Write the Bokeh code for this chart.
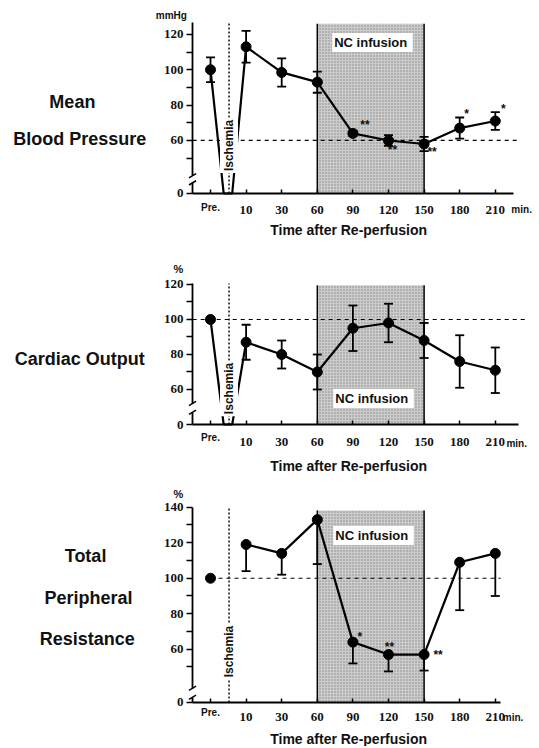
import numpy as np
from bokeh.plotting import figure
from bokeh.models import (Range1d, LinearAxis, FixedTicker, Label, Whisker,
                          ColumnDataSource, TeeHead)
from bokeh.layouts import column
from bokeh.embed import file_html
from bokeh.resources import INLINE

# ---------------- data ----------------
time_labels = ["Pre.", "10", "30", "60", "90", "120", "150", "180", "210"]
time_slots = [0, 1, 2, 3, 4, 5, 6, 7, 8]
infusion_slots = [3, 6]          # NC infusion from 60 to 150 min
ischemia_slot = 0.52             # ischemia between Pre. and 10 min
ischemia_fall = [0.37, 0.61]     # values fall to 0 during ischemia

mbp = [100, 113, 98.5, 93, 64, 60, 58, 67, 71]
mbp_sd = [7, 9, 8, 6, 1.5, 3, 4, 6, 5]
mbp_sig = ["", "", "", "", "**", "**", "**", "*", "*"]
mbp_ref = 60

co = [100, 87, 80, 70, 95, 98, 88, 76, 71]
co_sd = [0, 10, 8, 10, 13, 11, 10, 15, 13]
co_ref = 100

tpr = [100, 119, 114, 133, 64, 57, 57, 109, 114]
tpr_sd = [0, 15, 12, 25, 12, 9.5, 9, 27, 24]
tpr_sig = ["", "", "", "", "*", "**", "**", "", ""]
tpr_ref = 100

# ---------------- style ----------------
FONT = "Liberation Sans"
TICK_FONT = "Liberation Sans Narrow"
W = 537
X0 = -5.899
X1 = X0 + W / 35.6
AX = -0.506      # position of the y axis (between slots)
LW = 1.8


def lab(p, x, y, text, size, align="center", bg=None, angle=0, dx=0, dy=0, baseline="middle"):
    l = Label(x=x, y=y, text=text, text_font=FONT, text_font_size=f"{size}px",
              text_font_style="bold", text_align=align, text_baseline=baseline,
              text_color="#111111", angle=angle, x_offset=dx, y_offset=dy)
    if bg:
        l.background_fill_color = bg
        l.padding = 2
    p.add_layout(l)


def panel(cfg):
    p = figure(width=W, height=cfg["h"], x_range=Range1d(X0, X1),
               y_range=Range1d(cfg["y0"], cfg["y1"]), x_axis_type=None, y_axis_type=None,
               toolbar_location=None, output_backend="svg", min_border=0,
               outline_line_color=None, background_fill_color="white",
               border_fill_color="white")
    base = cfg["base"]

    # shaded NC infusion period
    p.quad(left=[infusion_slots[0]], right=[infusion_slots[1]], bottom=[base],
           top=[cfg["shade_top"]], fill_color="#cccccc", line_color=None,
           hatch_pattern="dot", hatch_color="#555555", hatch_scale=3, hatch_alpha=0.6,
           level="underlay")
    p.segment(x0=infusion_slots, x1=infusion_slots, y0=[base, base],
              y1=[cfg["shade_top"]] * 2, line_color="black", line_width=1.5)

    # ischemia wavy line
    p.line([ischemia_slot, ischemia_slot], [base, cfg["axis_top"]], line_color="black",
           line_width=1.4, line_dash="2 2")

    # reference level
    p.line(cfg["ref_span"], [cfg["ref"], cfg["ref"]], line_color="black", line_width=1.2,
           line_dash="4 4")

    vals, sd = cfg["vals"], cfg["sd"]
    # main line
    if cfg["fall"]:
        xs = [time_slots[0]] + ischemia_fall + time_slots[1:]
        ys = [vals[0], base, base] + vals[1:]
    else:
        xs, ys = time_slots[1:], vals[1:]
    p.line(xs, ys, line_color="black", line_width=2.2)

    # error bars
    idx = [i for i in range(len(vals)) if sd[i] > 0]
    up = [vals[i] + (sd[i] if cfg["both"] else 0) for i in idx]
    dn = [vals[i] - sd[i] for i in idx]
    src = ColumnDataSource(dict(x=[time_slots[i] for i in idx], upper=up, lower=dn))
    w = Whisker(source=src, base="x", upper="upper", lower="lower", line_width=LW,
                line_color="black", level="overlay",
                lower_head=TeeHead(size=9, line_width=LW, line_color="black"),
                upper_head=TeeHead(size=9, line_width=LW, line_color="black") if cfg["both"] else None)
    p.add_layout(w)

    p.scatter(time_slots, vals, size=10, color="black")

    # significance marks
    for i, s in enumerate(cfg.get("sig", [])):
        if s:
            dx, dy = cfg["sig_off"][i]
            lab(p, time_slots[i], vals[i], s, 12, dx=dx, dy=-dy)

    # y axes (broken)
    lo_ax = LinearAxis(fixed_location=AX, bounds=(base, cfg["brk"][0]),
                       ticker=FixedTicker(ticks=[base]), major_label_overrides={base: "0"})
    ticks = cfg["yticks"]
    over = {t: ("" if t % 20 else str(t)) for t in ticks}
    hi_ax = LinearAxis(fixed_location=AX, bounds=(cfg["brk"][1], cfg["axis_top"]),
                       ticker=FixedTicker(ticks=ticks), major_label_overrides=over)
    for a in (lo_ax, hi_ax):
        a.axis_line_width = LW
        a.major_tick_line_width = 1.5
        a.major_tick_out = 6
        a.major_tick_in = 0
        a.minor_tick_line_color = None
        a.major_label_standoff = 3
        a.major_label_text_font = TICK_FONT
        a.major_label_text_font_style = "bold"
        a.major_label_text_font_size = "13px"
        a.major_label_text_color = "#111111"
        p.add_layout(a, "left")
    # break marks
    p.segment(x0=[AX - 0.1, AX - 0.1], x1=[AX + 0.1, AX + 0.1],
              y0=[cfg["brk"][0] - 1.2, cfg["brk"][1] - 1.2],
              y1=[cfg["brk"][0] + 1.2, cfg["brk"][1] + 1.2], line_color="black", line_width=1.5)

    # x axis
    xo = {t: ("" if t == 0 else time_labels[t]) for t in time_slots}
    xa = LinearAxis(fixed_location=base, bounds=(AX, cfg["x_end"]),
                    ticker=FixedTicker(ticks=time_slots), major_label_overrides=xo)
    xa.axis_line_width = LW
    xa.major_tick_in = 4
    xa.major_tick_out = 0
    xa.major_tick_line_width = 1.5
    xa.minor_tick_line_color = None
    xa.major_label_standoff = cfg["xstand"]
    xa.major_label_text_font = TICK_FONT
    xa.major_label_text_font_style = "bold"
    xa.major_label_text_font_size = "13px"
    xa.major_label_text_color = "#111111"
    p.add_layout(xa, "below")

    lab(p, 0, cfg["pre_y"], time_labels[0], 10)
    lab(p, cfg["min_pos"][0], cfg["min_pos"][1], "min.", 10)
    lab(p, 3.99, cfg["title_y"], "Time  after  Re-perfusion", 14)
    lab(p, cfg["unit_pos"][0], cfg["unit_pos"][1], cfg["unit"], cfg["unit_size"])
    for (x, y, t) in cfg["names"]:
        lab(p, x, y, t, 18)
    lab(p, ischemia_slot, cfg["isch_y"], "Ischemia", 12, bg="white", angle=np.pi / 2)
    lab(p, cfg["nc_pos"][0], cfg["nc_pos"][1], "NC  infusion", 13, bg="white")
    return p


p1 = panel(dict(h=240, y0=3.4, y1=139.2, base=30, axis_top=127, shade_top=126,
                yticks=[50, 60, 70, 80, 90, 100, 110, 120], brk=(36, 40),
                ref=mbp_ref, ref_span=[-0.5, 8.62], x_end=8.51, vals=mbp, sd=mbp_sd,
                both=True, fall=True, sig=mbp_sig,
                sig_off={4: (12, -8), 5: (4, 10), 6: (8, 8), 7: (7, -14), 8: (8, -12)},
                xstand=13, pre_y=22, min_pos=(8.74, 20.9), title_y=9.06,
                unit="mmHg", unit_size=10, unit_pos=(-1.1, 130.7),
                names=[(-3.88, 81.5, "Mean"), (-3.6, 61.1, "Blood  Pressure")],
                isch_y=57.2, nc_pos=(4.55, 115.5)))

p2 = panel(dict(h=234, y0=11.43, y1=145.14, base=40, axis_top=120.5, shade_top=119.5,
                yticks=[60, 70, 80, 90, 100, 110, 120], brk=(47, 52),
                ref=co_ref, ref_span=[-0.5, 8.9], x_end=8.65, vals=co, sd=co_sd,
                both=True, fall=True,
                xstand=13, pre_y=32.6, min_pos=(8.6, 29.1), title_y=16.57,
                unit="%", unit_size=11, unit_pos=(-0.9, 129.1),
                names=[(-3.6, 77.7, "Cardiac  Output")],
                isch_y=60.6, nc_pos=(4.58, 54.9)))

p3 = panel(dict(h=272, y0=5.2, y1=158.45, base=30, axis_top=140, shade_top=138.2,
                yticks=[50, 60, 70, 80, 90, 100, 110, 120, 130, 140], brk=(33, 38),
                ref=tpr_ref, ref_span=[0, 8.15], x_end=8.15, vals=tpr, sd=tpr_sd,
                both=False, fall=False, sig=tpr_sig,
                sig_off={4: (7, -5), 5: (1, -8), 6: (14, 0)},
                xstand=11, pre_y=24.4, min_pos=(8.5, 21.5), title_y=9.15,
                unit="%", unit_size=11, unit_pos=(-0.9, 147.7),
                names=[(-3.51, 112.3, "Total"), (-3.43, 88.6, "Peripheral"),
                       (-3.46, 65.5, "Resistance")],
                isch_y=58.7, nc_pos=(4.58, 124.1)))

layout = column(p1, p2, p3)
open("out.html", "w").write(file_html(layout, INLINE))
